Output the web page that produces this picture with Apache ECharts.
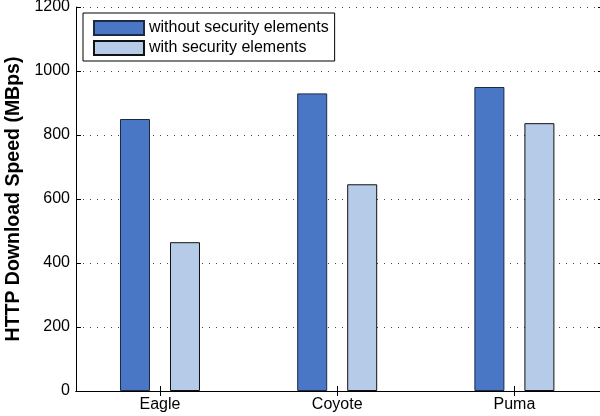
<!DOCTYPE html>
<html>
<head>
<meta charset="utf-8">
<script src="https://cdn.jsdelivr.net/npm/echarts@6/dist/echarts.min.js"></script>
<style>
  html, body { margin: 0; padding: 0; background: #fff; }
  #chart { width: 600px; height: 416px; }
</style>
</head>
<body>
<div id="chart"></div>
<script>
// Web servers compared
const categories = ['Eagle', 'Coyote', 'Puma'];
// Download throughput in MBps
const withoutSecurity = [850, 930, 950];
const withSecurity = [465, 646, 837];
const seriesNames = ['without security elements', 'with security elements'];
const yTicks = [0, 200, 400, 600, 800, 1000, 1200];

const FONT = "'Liberation Sans', Arial, Helvetica, sans-serif";
const positions = categories.map((_, i) => i + 1);

const chart = echarts.init(document.getElementById('chart'), null, { renderer: 'canvas' });

const frameAxis = {
  axisLine: { show: true, lineStyle: { color: '#000', width: 1 } },
  axisTick: { show: true, inside: true, length: 5, lineStyle: { color: '#000' } }
};

chart.setOption({
  animation: false,
  backgroundColor: '#fff',
  textStyle: { fontFamily: FONT },
  grid: { left: 76, top: 7, width: 527, height: 384, containLabel: false, outerBoundsMode: 'none' },
  legend: {
    left: 83,
    top: 13,
    orient: 'vertical',
    itemWidth: 50,
    itemHeight: 14,
    itemGap: 4,
    padding: [7, 6, 5, 10],
    borderColor: '#000',
    borderWidth: 1,
    backgroundColor: '#fff',
    icon: 'rect',
    textStyle: { fontFamily: FONT, fontSize: 16, color: '#000' },
    itemTextGap: 5,
    data: seriesNames
  },
  xAxis: [
    {
      type: 'value',
      position: 'bottom',
      min: 0.526,
      max: 3.5,
      splitLine: { show: false },
      ...frameAxis,
      axisTick: { show: true, inside: true, length: 5, lineStyle: { color: '#000' }, customValues: positions },
      axisLabel: {
        customValues: positions,
        formatter: v => categories[Math.round(v) - 1] || '',
        fontFamily: FONT, fontSize: 16, color: '#000', margin: 6
      }
    },
    {
      type: 'value',
      position: 'top',
      min: 0.526,
      max: 3.5,
      splitLine: { show: false },
      ...frameAxis,
      axisTick: { show: true, inside: true, length: 5, lineStyle: { color: '#000' }, customValues: positions },
      axisLabel: { show: false }
    }
  ],
  yAxis: [
    {
      type: 'value',
      position: 'left',
      min: yTicks[0],
      max: yTicks[yTicks.length - 1],
      interval: 200,
      name: 'HTTP Download Speed (MBps)',
      nameLocation: 'middle',
      nameRotate: 90,
      nameGap: 44,
      nameTextStyle: { fontFamily: FONT, fontSize: 19.5, fontWeight: 'bold', color: '#000' },
      ...frameAxis,
      axisLabel: { fontFamily: FONT, fontSize: 16, color: '#000', margin: 6, formatter: v => String(v) },
      splitLine: { show: true, lineStyle: { color: '#444', width: 1, type: [1, 6] } }
    },
    {
      type: 'value',
      position: 'right',
      min: yTicks[0],
      max: yTicks[yTicks.length - 1],
      interval: 200,
      ...frameAxis,
      axisLabel: { show: false },
      splitLine: { show: false }
    }
  ],
  series: [
    {
      name: seriesNames[0],
      type: 'bar',
      barWidth: 30,
      barGap: '66.7%',
      itemStyle: { color: '#4a77c5', borderColor: '#1c2a44', borderWidth: 1 },
      data: positions.map((x, i) => [x, withoutSecurity[i]])
    },
    {
      name: seriesNames[1],
      type: 'bar',
      barWidth: 30,
      barGap: '66.7%',
      itemStyle: { color: '#b5cbe7', borderColor: '#111', borderWidth: 1 },
      data: positions.map((x, i) => [x, withSecurity[i]])
    }
  ]
});
</script>
</body>
</html>
